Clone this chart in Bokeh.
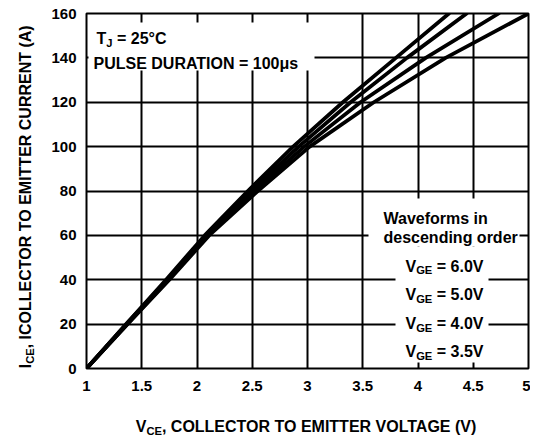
from math import pi
from bokeh.plotting import figure
from bokeh.layouts import row, column
from bokeh.models import Label, Range1d, FixedTicker
from bokeh.embed import file_html
from bokeh.resources import INLINE

# ---------------- data ----------------
x_ticks = [1, 1.5, 2, 2.5, 3, 3.5, 4, 4.5, 5]
x_tick_labels = ["1", "1.5", "2", "2.5", "3", "3.5", "4", "4.5", "5"]
y_ticks = [0, 20, 40, 60, 80, 100, 120, 140, 160]
y_tick_labels = ["0", "20", "40", "60", "80", "100", "120", "140", "160"]

ice = [0, 20, 40, 60, 80, 100, 120, 140, 160]
vce_vge_6_0 = [1.0, 1.36, 1.72, 2.07, 2.46, 2.87, 3.32, 3.80, 4.28]
vce_vge_5_0 = [1.0, 1.36, 1.73, 2.08, 2.49, 2.92, 3.39, 3.90, 4.44]
vce_vge_4_0 = [1.0, 1.37, 1.74, 2.10, 2.52, 2.97, 3.48, 4.07, 4.73]
vce_vge_3_5 = [1.0, 1.37, 1.75, 2.11, 2.55, 3.02, 3.60, 4.25, 5.00]
series = [vce_vge_6_0, vce_vge_5_0, vce_vge_4_0, vce_vge_3_5]

legend_lines = ["6.0V", "5.0V", "4.0V", "3.5V"]

# ---------------- layout (page px) ----------------
YL_W = 38
MW, MH = 492, 400
XL_H = 40
FX0, FX1 = 86, 528
FY0, FY1 = 13, 368
X0, X1, Y0, Y1 = 1, 5, 0, 160
BL = FX0 - YL_W
BR = YL_W + MW - FX1
BT = FY0
BB = MH - FY1

FONT = "Liberation Sans"

CW = {' ': 278, '!': 333, '(': 333, ')': 333, ',': 278, '-': 333, '.': 278,
      '=': 584, '°': 400, 'μ': 611, 'A': 722, 'B': 722, 'C': 722, 'D': 722,
      'E': 667, 'F': 611, 'G': 778, 'H': 722, 'I': 278, 'J': 556, 'L': 611,
      'M': 833, 'N': 722, 'O': 778, 'P': 667, 'R': 722, 'S': 667, 'T': 611,
      'U': 722, 'V': 667, 'W': 944, 'a': 556, 'c': 556, 'd': 611, 'e': 556,
      'f': 333, 'g': 611, 'i': 278, 'm': 889, 'n': 611, 'o': 611, 'r': 389,
      's': 556}


def tw(s, size):
    return sum(CW.get(c, 556) for c in s) * size / 1000.0


def rich(fig, cx, cy, parts, x, y, size=16, align="left", angle=0.0):
    """parts: list of (text, is_subscript); x, y: page px of the baseline."""
    sub = size * 0.7
    widths = [tw(t, sub if s else size) for t, s in parts]
    total = sum(widths)
    off = -total / 2 if align == "center" else 0.0
    for (t, s), w in zip(parts, widths):
        fs = sub if s else size
        drop = size * 0.28 if s else 0
        lead = len(t) - len(t.lstrip(" "))
        shift = tw(" " * lead, fs)
        txt = t.lstrip(" ")
        if angle == 0:
            lx, ly = x + off + shift, y + drop
        else:  # rotated 90deg ccw: text runs upward, "down" is +x
            lx, ly = x + drop, y - off - shift
        fig.add_layout(Label(x=cx(lx), y=cy(ly), text=txt, text_font=FONT,
                             text_font_size=f"{fs:.1f}px",
                             text_font_style="bold", text_color="black",
                             text_align="left", text_baseline="alphabetic",
                             angle=angle))
        off += w


# ---------------- main figure ----------------
p = figure(width=MW, height=MH, output_backend="svg", toolbar_location=None,
           x_range=Range1d(X0, X1), y_range=Range1d(Y0, Y1),
           min_border_left=BL, min_border_right=BR,
           min_border_top=BT, min_border_bottom=BB)
p.background_fill_color = "white"
p.border_fill_color = "white"
p.outline_line_color = "black"
p.outline_line_width = 2


def px2x(px):
    return X0 + (px - FX0) * (X1 - X0) / (FX1 - FX0)


def py2y(py):
    return Y0 + (FY1 - py) * (Y1 - Y0) / (FY1 - FY0)


for ax, ticks, labels in ((p.xaxis[0], x_ticks, x_tick_labels),
                          (p.yaxis[0], y_ticks, y_tick_labels)):
    ax.ticker = FixedTicker(ticks=ticks)
    ax.major_label_overrides = {t: l for t, l in zip(ticks, labels)}
    ax.axis_line_color = None
    ax.major_tick_line_color = None
    ax.minor_tick_line_color = None
    ax.major_tick_out = 0
    ax.major_tick_in = 0
    ax.major_label_text_font = FONT
    ax.major_label_text_font_style = "bold"
    ax.major_label_text_font_size = "15px"
    ax.major_label_text_color = "black"
p.xaxis.major_label_standoff = 12
p.yaxis.major_label_standoff = 10

for g in (p.xgrid[0], p.ygrid[0]):
    g.grid_line_color = "black"
    g.grid_line_width = 2
    g.grid_line_alpha = 1

for s in series:
    p.line(s, ice, line_color="black", line_width=3.8, line_join="round",
           line_cap="round")

# white boxes behind the annotations (page px: left, right, top, bottom)
boxes = [(88, 314, 22, 70), (368, 519, 198, 246), (395, 488, 246, 362)]
p.quad(left=[px2x(b[0]) for b in boxes], right=[px2x(b[1]) for b in boxes],
       top=[py2y(b[2]) for b in boxes], bottom=[py2y(b[3]) for b in boxes],
       fill_color="white", line_color=None)

rich(p, px2x, py2y, [("T", False), ("J", True), (" = 25°C", False)], 96, 38)
rich(p, px2x, py2y, [("PULSE DURATION = 100μs", False)], 93, 63)
rich(p, px2x, py2y, [("Waveforms in", False)], 383, 218)
rich(p, px2x, py2y, [("descending order", False)], 383, 237)
for i, lab in enumerate(legend_lines):
    rich(p, px2x, py2y, [("V", False), ("GE", True), (" = " + lab, False)],
         444, 265.5 + i * 28.6, align="center")


# ---------------- axis-title strips ----------------
def strip(w, h, xr, yr, bl=0, br=0):
    f = figure(width=w, height=h, output_backend="svg", toolbar_location=None,
               x_range=Range1d(*xr), y_range=Range1d(*yr),
               min_border_left=bl, min_border_right=br,
               min_border_top=0, min_border_bottom=0,
               x_axis_location=None, y_axis_location=None)
    f.outline_line_color = None
    f.background_fill_color = "white"
    f.border_fill_color = "white"
    f.grid.visible = False
    return f


# x-title strip: its frame is aligned with the main frame, so x is page px
xl = strip(MW, XL_H, (FX0, FX1), (0, XL_H), bl=BL, br=BR)
rich(xl, lambda px: px, lambda py: XL_H - (py - MH),
     [("V", False), ("CE", True), (", COLLECTOR TO EMITTER VOLTAGE (V)", False)],
     307, 426, align="center")

YL_H = MH + XL_H
yl = strip(YL_W, YL_H, (0, YL_W), (0, YL_H))
rich(yl, lambda px: px, lambda py: YL_H - py,
     [("I", False), ("CE", True), (", ICOLLECTOR TO EMITTER CURRENT (A)", False)],
     25, 196, align="center", angle=pi / 2)

layout = row(yl, column(p, xl))
open("out.html", "w").write(file_html(layout, INLINE))
